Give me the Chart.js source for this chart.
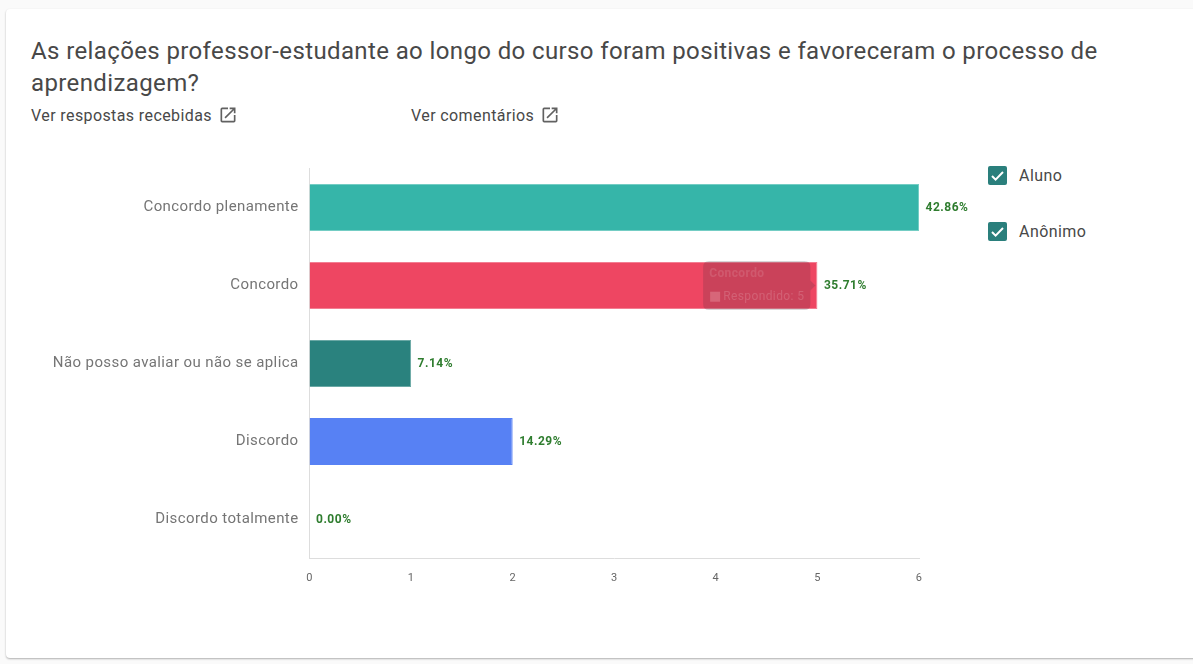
<!DOCTYPE html>
<html lang="pt">
<head>
<meta charset="utf-8">
<style>
html,body{margin:0;padding:0;width:1193px;height:664px;overflow:hidden;background:#fafafa;font-family:Roboto,sans-serif}
#card{position:absolute;left:6px;top:9px;width:1200px;height:649px;background:#fff;border-radius:4px;box-shadow:0 1px 2px rgba(0,0,0,.3)}
#chart{position:absolute;left:0;top:0}
h1{position:absolute;left:31px;top:35px;width:1120px;margin:0;font-weight:400;font-size:24px;line-height:32px;color:#484848;letter-spacing:.38px}
.lnk{position:absolute;top:106px;font-size:16px;line-height:20px;color:#484848;white-space:nowrap;letter-spacing:.4px}
.lnk svg{position:absolute;top:-1px;width:20px;height:20px}
.leg{position:absolute;left:988px;font-size:16px;line-height:20px;color:#484848;letter-spacing:.45px}
.leg svg{position:absolute;left:0;top:0;width:19px;height:19px}
.leg span{position:absolute;left:31px;top:0;white-space:nowrap}
</style>
</head>
<body>
<div id="card"></div>
<h1>As relações professor-estudante ao longo do curso foram positivas e favoreceram o processo de aprendizagem?</h1>
<div class="lnk" style="left:31px">Ver respostas recebidas<svg style="left:187px" viewBox="0 0 24 24"><path fill="#616161" d="M19 19H5V5h7V3H5a2 2 0 0 0-2 2v14a2 2 0 0 0 2 2h14a2 2 0 0 0 2-2v-7h-2v7zM14 3v2h3.59l-9.83 9.83 1.41 1.41L19 6.41V10h2V3h-7z"/></svg></div>
<div class="lnk" style="left:411px">Ver comentários<svg style="left:129px" viewBox="0 0 24 24"><path fill="#616161" d="M19 19H5V5h7V3H5a2 2 0 0 0-2 2v14a2 2 0 0 0 2 2h14a2 2 0 0 0 2-2v-7h-2v7zM14 3v2h3.59l-9.83 9.83 1.41 1.41L19 6.41V10h2V3h-7z"/></svg></div>
<div class="leg" style="top:166px"><svg viewBox="0 0 19 19"><rect width="19" height="19" rx="2" fill="#2a7f7c"/><path d="M4 10l3.6 3.6L15 6" fill="none" stroke="#fff" stroke-width="2"/></svg><span>Aluno</span></div>
<div class="leg" style="top:222px"><svg viewBox="0 0 19 19"><rect width="19" height="19" rx="2" fill="#2a7f7c"/><path d="M4 10l3.6 3.6L15 6" fill="none" stroke="#fff" stroke-width="2"/></svg><span>Anônimo</span></div>
<canvas id="chart" width="1193" height="664"></canvas>
<script src="https://cdn.jsdelivr.net/npm/chart.js@4"></script>
<script>
const categories = ["Concordo plenamente", "Concordo", "Não posso avaliar ou não se aplica", "Discordo", "Discordo totalmente"];
const answered = [6, 5, 1, 2, 0];
const percentLabels = ["42.86%", "35.71%", "7.14%", "14.29%", "0.00%"];
const barColors = ["#36b5a9", "#ee4662", "#2a827e", "#5781f4", "#9e9e9e"];
const borderColors = ["#74cdc4", "#f37e92", "#6aa8a5", "#5781f4", "#9e9e9e"];
const xTicks = [0, 1, 2, 3, 4, 5, 6];

const spacingPlugin = {
  id: "textSpacing",
  beforeDraw(chart) { chart.ctx.letterSpacing = "0.4px"; }
};

const percentPlugin = {
  id: "percentLabels",
  afterDatasetsDraw(chart) {
    const { ctx } = chart;
    ctx.save();
    ctx.letterSpacing = "0.5px";
    ctx.font = "bold 12px Roboto, sans-serif";
    ctx.fillStyle = "#2f7d2f";
    ctx.textAlign = "left";
    ctx.textBaseline = "middle";
    chart.getDatasetMeta(0).data.forEach((bar, i) => {
      ctx.fillText(percentLabels[i], bar.x + 6.5, bar.y + 0.5);
    });
    ctx.restore();
  }
};

const chart = new Chart(document.getElementById("chart"), {
  type: "bar",
  plugins: [spacingPlugin, percentPlugin],
  data: {
    labels: categories,
    datasets: [{
      label: "Respondido",
      data: answered,
      backgroundColor: barColors,
      borderColor: borderColors,
      hoverBackgroundColor: barColors,
      hoverBorderColor: borderColors,
      borderWidth: 1,
      barPercentage: 0.6,
      categoryPercentage: 1
    }]
  },
  options: {
    indexAxis: "y",
    responsive: false,
    animation: false,
    events: [],
    layout: { padding: { left: 0, top: 168.5, right: 274, bottom: 75.5 } },
    plugins: {
      legend: { display: false },
      title: { display: false },
      tooltip: {
        enabled: true,
        animation: false,
        backgroundColor: "rgba(60,50,60,0.2)",
        titleColor: "rgba(255,255,255,0.12)",
        bodyColor: "rgba(255,255,255,0.16)",
        titleFont: { family: "Roboto", size: 12, weight: "bold" },
        bodyFont: { family: "Roboto", size: 12 },
        xAlign: "right",
        yAlign: "center",
        padding: 6,
        caretSize: 5,
        cornerRadius: 6,
        boxWidth: 12,
        boxHeight: 12,
        multiKeyBackground: "rgba(0,0,0,0)",
        titleMarginBottom: 8,
        callbacks: {
          labelColor: () => ({ backgroundColor: "rgba(240,170,180,0.35)", borderColor: "rgba(255,255,255,0)" }),
          labelTextColor: () => "rgba(255,255,255,0.16)"
        }
      }
    },
    scales: {
      x: {
        min: 0,
        max: 6,
        afterFit(s) { s.height = 30; },
        afterBuildTicks(s) { s.ticks = xTicks.map(v => ({ value: v })); },
        grid: { display: false },
        border: { display: true, color: "#dddddd", width: 1 },
        ticks: { color: "#666666", font: { family: "Roboto", size: 11 }, padding: 5, maxRotation: 0 }
      },
      y: {
        afterFit(s) { s.width = 309.5; },
        grid: { display: false, drawTicks: false },
        border: { display: true, color: "#dddddd", width: 1 },
        ticks: { color: "#757575", font: { family: "Roboto", size: 15 }, padding: 11, autoSkip: false }
      }
    }
  }
});
chart.setActiveElements([{ datasetIndex: 0, index: 1 }]);
chart.tooltip.setActiveElements([{ datasetIndex: 0, index: 1 }], { x: 0, y: 0 });
chart.update();
</script>
</body>
</html>
